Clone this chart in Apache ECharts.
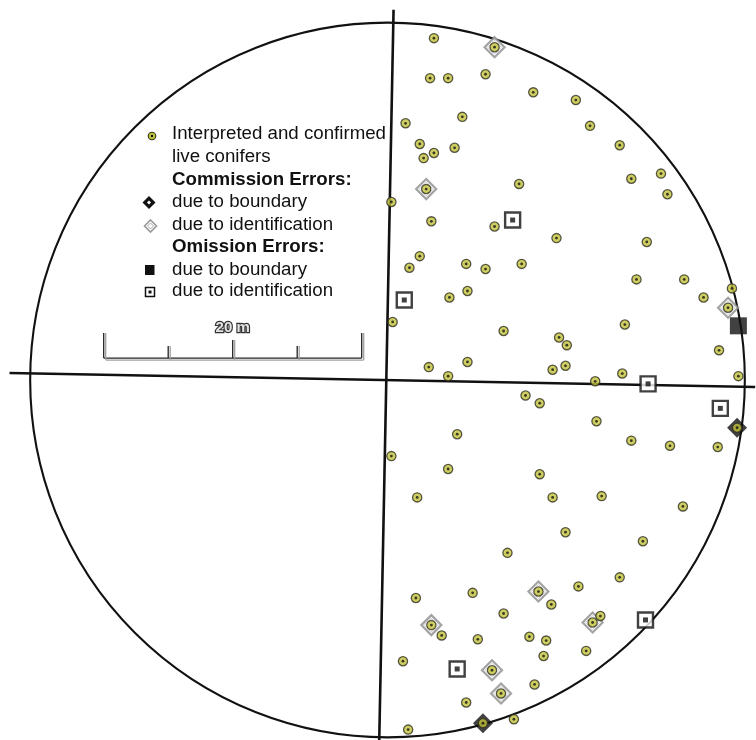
<!DOCTYPE html>
<html>
<head>
<meta charset="utf-8">
<script src="https://cdn.jsdelivr.net/npm/echarts@6/dist/echarts.min.js"></script>
<style>
  html, body { margin: 0; padding: 0; background: #fff; }
  #chart { width: 756px; height: 740px; }
</style>
</head>
<body>
<div id="chart"></div>
<script>
// Stem map of a circular plot. All positions are metres east (x) and north (y) of the plot centre.
const plotRadius = 27.7;

const confirmedTrees = [
  [3.6, 26.5], [3.3, 23.4], [4.7, 23.4], [7.6, 23.7], [11.3, 22.3], [5.8, 20.4], [1.4, 19.9],
  [2.5, 18.3], [3.6, 17.6], [5.2, 18.0], [2.8, 17.2], [10.2, 15.2], [0.3, 13.8], [14.6, 21.7],
  [15.7, 19.7], [18.0, 18.2], [18.9, 15.6], [21.2, 16.0], [21.7, 14.4], [3.4, 12.3], [8.3, 11.9],
  [13.1, 11.0], [2.5, 9.6], [1.7, 8.7], [6.1, 9.0], [7.6, 8.6], [10.4, 9.0], [6.2, 6.9],
  [4.8, 6.4], [0.4, 4.5], [9.0, 3.8], [13.3, 3.3], [13.9, 2.7], [3.2, 1.0], [6.2, 1.4],
  [4.7, 0.3], [12.8, 0.8], [13.8, 1.1], [20.1, 10.7], [19.3, 7.8], [23.0, 7.8], [26.7, 7.1],
  [24.5, 6.4], [18.4, 4.3], [18.2, 0.5], [25.7, 2.3], [27.2, 0.3], [16.1, -0.1], [10.7, -1.2],
  [11.8, -1.8], [5.4, -4.2], [0.3, -5.9], [4.7, -6.9], [11.8, -7.3], [2.3, -9.1], [12.8, -9.1],
  [13.8, -11.8], [9.3, -13.4], [16.2, -3.2], [18.9, -4.7], [21.9, -5.1], [25.6, -5.2],
  [16.6, -9.0], [22.9, -9.8], [19.8, -12.5], [2.2, -16.9], [6.6, -16.5], [12.7, -17.4],
  [9.0, -18.1], [4.2, -19.8], [7.0, -20.1], [11.0, -19.9], [12.3, -20.2], [12.1, -21.4],
  [1.2, -21.8], [11.4, -23.6], [6.1, -25.0], [9.8, -26.3], [1.6, -27.1], [14.8, -16.0],
  [18.0, -15.3], [16.5, -18.3], [15.4, -21.0]
];

// Interpreted trees that turned out to be errors (drawn with a diamond frame)
const commissionIdentification = [
  [8.3, 25.8], [3.0, 14.8], [26.4, 5.6], [11.7, -16.4], [3.4, -19.0], [8.1, -22.5],
  [8.8, -24.3], [15.9, -18.8]
];
const commissionBoundary = [[27.1, -3.7], [7.4, -26.6]];

// Field trees missed by interpretation
const omissionIdentification = [
  [9.7, 12.4], [1.3, 6.2], [20.2, -0.3], [25.8, -2.2], [5.4, -22.4], [20.0, -18.6]
];
const omissionBoundary = [[27.2, 4.2]];

// Transect lines crossing the plot
const northSouthLine = [[0.47, 28.7], [-0.64, -27.9]];
const eastWestLine = [[-29.3, 0.54], [28.5, -0.54]];

// Scale bar: start x, end x, y (metres)
const scaleBar = [[-22, -2, 1.7]];
const scaleLabel = '20 m';

const legendTitleCommission = 'Commission Errors:';
const legendTitleOmission = 'Omission Errors:';
const legendLabels = [
  'Interpreted and confirmed', 'live conifers', 'due to boundary', 'due to identification',
  'due to boundary', 'due to identification'
];

const FONT = '"Liberation Sans", Arial, Helvetica, sans-serif';
const OLIVE = '#c3c23c';

const interpretedTrees = confirmedTrees.concat(commissionIdentification, commissionBoundary);

const chart = echarts.init(document.getElementById('chart'), null, { renderer: 'canvas' });

function legendText(text, y, bold) {
  return {
    type: 'text', left: 172, top: y - 11,
    style: { text: text, font: (bold ? 'bold ' : '') + '18.7px ' + FONT, fill: '#111' }
  };
}

const legendGraphics = [
  // interpreted dot
  { type: 'circle', shape: { cx: 152, cy: 136, r: 3.8 }, style: { fill: OLIVE, stroke: '#2f2f20', lineWidth: 1.1 } },
  { type: 'circle', shape: { cx: 152, cy: 136, r: 1.2 }, style: { fill: '#111' } },
  // commission – boundary
  { type: 'polygon', shape: { points: [[149, 196], [155.5, 202.5], [149, 209], [142.5, 202.5]] }, style: { fill: '#111' } },
  { type: 'polygon', shape: { points: [[149, 200.5], [151, 202.5], [149, 204.5], [147, 202.5]] }, style: { fill: '#fff' } },
  // commission – identification
  { type: 'polygon', shape: { points: [[150.5, 220], [156.5, 226], [150.5, 232], [144.5, 226]] }, style: { fill: '#fff', stroke: '#999', lineWidth: 1.6 } },
  { type: 'polygon', shape: { points: [[150.5, 223], [153.5, 226], [150.5, 229], [147.5, 226]] }, style: { fill: '#fff', stroke: '#aaa', lineWidth: 1 } },
  // omission – boundary
  { type: 'rect', shape: { x: 145, y: 265, width: 9.5, height: 10 }, style: { fill: '#111' } },
  // omission – identification
  { type: 'rect', shape: { x: 145.5, y: 287.5, width: 9, height: 9 }, style: { fill: '#fff', stroke: '#111', lineWidth: 1.5 } },
  { type: 'rect', shape: { x: 148.5, y: 290.5, width: 3, height: 3 }, style: { fill: '#111' } },
  legendText(legendLabels[0], 135, false),
  legendText(legendLabels[1], 158, false),
  legendText(legendTitleCommission, 181, true),
  legendText(legendLabels[2], 203, false),
  legendText(legendLabels[3], 226, false),
  legendText(legendTitleOmission, 248, true),
  legendText(legendLabels[4], 271, false),
  legendText(legendLabels[5], 292, false)
];

// 12.9 px per metre on both axes, plot centre at (387.5, 380)
const X_MIN = -30, X_MAX = 28.5, Y_MIN = -27.9, Y_MAX = 29.4, PX_PER_M = 12.9;

const option = {
  animation: false,
  backgroundColor: '#fff',
  grid: {
    left: 0.5, top: 380 - Y_MAX * PX_PER_M,
    width: (X_MAX - X_MIN) * PX_PER_M, height: (Y_MAX - Y_MIN) * PX_PER_M,
    outerBoundsMode: 'none', containLabel: false
  },
  xAxis: { type: 'value', min: X_MIN, max: X_MAX, show: false },
  yAxis: { type: 'value', min: Y_MIN, max: Y_MAX, show: false },
  graphic: legendGraphics,
  series: [
    {
      // plot boundary
      type: 'custom', clip: false, silent: true, z: 1,
      data: [[0, 0, plotRadius]],
      renderItem: function (params, api) {
        const c = api.coord([api.value(0), api.value(1)]);
        const e = api.coord([api.value(0) + api.value(2), api.value(1)]);
        return {
          type: 'circle',
          shape: { cx: c[0], cy: c[1], r: e[0] - c[0] },
          style: { fill: 'none', stroke: '#111', lineWidth: 2.1 }
        };
      }
    },
    {
      type: 'line', data: northSouthLine, symbol: 'none', silent: true, z: 2, clip: false,
      lineStyle: { color: '#111', width: 2.6 }
    },
    {
      type: 'line', data: eastWestLine, symbol: 'none', silent: true, z: 2, clip: false,
      lineStyle: { color: '#111', width: 2.6 }
    },
    {
      // scale bar
      type: 'custom', clip: false, silent: true, z: 3,
      data: scaleBar,
      encode: { x: [0, 1], y: 2 },
      renderItem: function (params, api) {
        const a = api.coord([api.value(0), api.value(2)]);
        const b = api.coord([api.value(1), api.value(2)]);
        const heights = [25, 12, 18, 12, 25];
        const children = [];
        const addLine = function (x1, y1, x2, y2, color) {
          children.push({ type: 'line', shape: { x1: x1, y1: y1, x2: x2, y2: y2 }, style: { stroke: color, lineWidth: 1.3 } });
        };
        // grey offset shadow first, then black stroke
        addLine(a[0] + 2, a[1] + 2, b[0] + 2, b[1] + 2, '#a0a0a0');
        addLine(a[0], a[1], b[0], b[1], '#222');
        heights.forEach(function (h, i) {
          const x = a[0] + (b[0] - a[0]) * i / 4;
          addLine(x + 2, a[1] - h, x + 2, a[1] + 2, '#a0a0a0');
          addLine(x, a[1] - h, x, a[1], '#222');
        });
        children.push({
          type: 'text',
          x: (a[0] + b[0]) / 2, y: a[1] - 30,
          style: {
            text: scaleLabel, font: 'bold 15px ' + FONT, fill: '#e4e4e4',
            stroke: '#333', lineWidth: 2.4, align: 'center', verticalAlign: 'middle'
          }
        });
        return { type: 'group', children: children };
      }
    },
    {
      type: 'scatter', data: commissionIdentification, symbol: 'diamond', symbolSize: 20, z: 4,
      itemStyle: { color: '#fff', borderColor: '#8c8c8c', borderWidth: 2.2 }
    },
    {
      type: 'scatter', data: commissionIdentification, symbol: 'diamond', symbolSize: 14, z: 4,
      itemStyle: { color: '#fff', borderColor: '#c4c4c4', borderWidth: 1 }
    },
    {
      type: 'scatter', data: commissionBoundary, symbol: 'diamond', symbolSize: 20, z: 4,
      itemStyle: { color: '#111' }
    },
    {
      type: 'scatter', data: interpretedTrees, symbol: 'circle', symbolSize: 9.2, z: 5,
      itemStyle: { color: OLIVE, borderColor: '#2f2f20', borderWidth: 1.3 }
    },
    {
      type: 'scatter', data: interpretedTrees, symbol: 'circle', symbolSize: 2.8, z: 6,
      itemStyle: { color: '#111' }
    },
    {
      type: 'scatter', data: omissionIdentification, symbol: 'rect', symbolSize: 15, z: 5,
      itemStyle: { color: '#fff', borderColor: '#111', borderWidth: 2.4 }
    },
    {
      type: 'scatter', data: omissionIdentification, symbol: 'rect', symbolSize: 5, z: 6,
      itemStyle: { color: '#111' }
    },
    {
      type: 'scatter', data: omissionBoundary, symbol: 'rect', symbolSize: 17, z: 5,
      itemStyle: { color: '#111' }
    }
  ]
};

chart.setOption(option);
</script>
</body>
</html>
